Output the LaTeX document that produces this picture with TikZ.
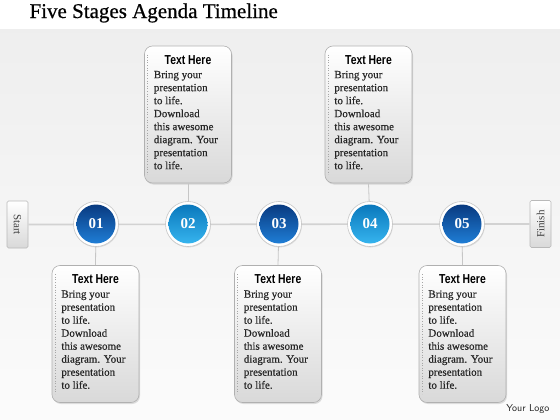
\documentclass[tikz,border=0pt]{standalone}
\usepackage{fontspec}
\setmainfont{Liberation Serif}
\newfontfamily\headfont[FakeStretch=0.8]{Liberation Sans}
\newfontfamily\bodyfont[FakeBold=0.4]{Liberation Serif}
\newfontfamily\titlefont[FakeBold=0.6]{Liberation Serif}
\usetikzlibrary{shadows}
\definecolor{darktop}{HTML}{093A80}
\definecolor{darkbot}{HTML}{1F7ED6}
\definecolor{lighttop}{HTML}{0A78BC}
\definecolor{lightbot}{HTML}{36B4EE}
\definecolor{boxedge}{HTML}{B0B0B0}
\definecolor{linegray}{HTML}{D2D2D2}
\tikzset{
  x=1pt,y=-1pt,
  infobox/.style={draw=boxedge,line width=0.6pt,rounded corners=8pt,
    top color=white,bottom color=gray!30,
    drop shadow={shadow xshift=1pt,shadow yshift=-1.5pt,opacity=0.25},
    minimum width=87pt,minimum height=137pt,inner sep=0pt},
  ring/.style={circle,draw=gray!45,line width=0.6pt,fill=white,minimum size=45pt,inner sep=0pt,
    drop shadow={shadow xshift=0.5pt,shadow yshift=-1pt,opacity=0.2}},
  darkdot/.style={circle,top color=darktop,bottom color=darkbot,minimum size=39pt,inner sep=0pt},
  lightdot/.style={circle,top color=lighttop,bottom color=lightbot,minimum size=39pt,inner sep=0pt},
  stagenum/.style={text=white,font=\bfseries\fontsize{15}{15}\selectfont},
  endbox/.style={draw=gray!55,line width=0.6pt,rounded corners=1.5pt,top color=white,bottom color=gray!30,
    minimum width=21pt,minimum height=47pt,inner sep=0pt},
  endtext/.style={text=gray!50!black,font=\fontsize{11}{11}\selectfont},
  connect/.style={draw=linegray,line width=1.6pt},
  stem/.style={draw=gray!45,line width=0.8pt},
  dots/.style={draw=gray!70,line width=0.6pt,dotted},
  headtxt/.style={font=\headfont\bfseries\fontsize{13}{13}\selectfont,anchor=center},
  bodytxt/.style={font=\bodyfont\fontsize{11}{13}\selectfont,align=left,anchor=north west,inner sep=0pt,text=black!85}
}
\begin{document}
\begin{tikzpicture}
\useasboundingbox (0,0) rectangle (560,420);
\fill[white] (0,0) rectangle (560,420);
\shade[top color=gray!13,bottom color=gray!3] (0,30) rectangle (560,420);
\node[anchor=west,font=\titlefont\fontsize{21}{21}\selectfont] (title) at (26,13) {Five Stages Agenda Timeline};

% end boxes
\node[endbox] (start) at (17.5,224.5) {};
\node[endtext,rotate=-90] at (start) {Start};
\node[endbox] (finish) at (540.5,224) {};
\node[endtext,rotate=90] at (finish) {Finish};

\foreach \i/\x in {1/96,2/188,3/279,4/370,5/462}{
  \coordinate (c\i) at (\x,224);
}
\path[connect] (start.east) -- (finish.west);

% boxes
\foreach \i/\x/\y in {1/95.5/334,2/188/114.5,3/278/334,4/368.5/114.5,5/462.5/334}{
  \node[infobox] (b\i) at (\x,\y) {};
}
\foreach \i in {1,3,5}{ \path[stem] (b\i.north) -- (c\i); }
\foreach \i in {2,4}{ \path[stem] (b\i.south) -- (c\i); }

\foreach \i/\n/\s in {1/01/darkdot,2/02/lightdot,3/03/darkdot,4/04/lightdot,5/05/darkdot}{
  \node[ring] (r\i) at (c\i) {};
  \node[\s] (s\i) at (c\i) {};
  \node[stagenum] (n\i) at (c\i) {\n};
}

\foreach \i in {1,...,5}{
  \path[dots] ([xshift=3.5pt,yshift=-9pt]b\i.north west) -- ([xshift=3.5pt,yshift=9pt]b\i.south west);
  \node[headtxt] (h\i) at ([yshift=-14pt]b\i.north) {Text Here};
  \node[bodytxt] (t\i) at ([xshift=9.5pt,yshift=-25pt]b\i.north west)
    {Bring your\\presentation\\to life.\\Download\\this awesome\\diagram. Your\\presentation\\to life.};
}

\node[anchor=east,font=\fontsize{10}{10}\selectfont\sffamily,text=black!85] (logo) at (553,409) {Your Logo};
\end{tikzpicture}
\end{document}
